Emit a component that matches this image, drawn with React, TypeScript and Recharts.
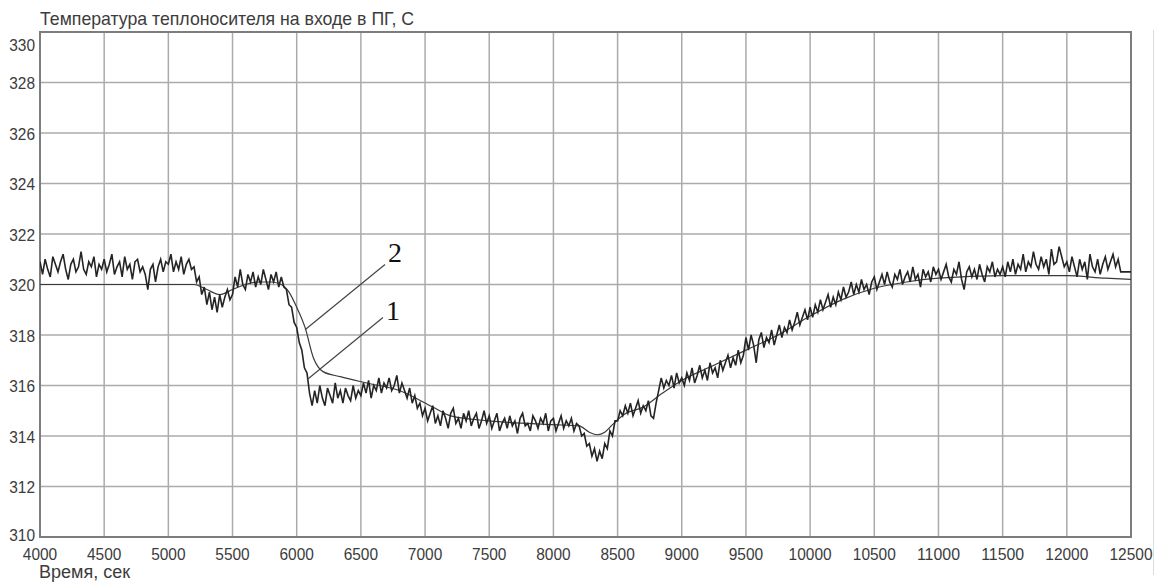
import React from "react";
import {
  LineChart,
  Line,
  XAxis,
  YAxis,
  CartesianGrid,
  ReferenceArea,
  ReferenceLine,
  ReferenceDot,
} from "recharts";

// measured temperature, sampled every 20 s from 4000 s
const startTime = 4000;
const sampleStep = 20;
const measuredTemp = [
  // 4000-4480
  320.9, 320.4, 321.0, 320.6, 320.3, 321.1, 320.8, 320.5, 320.9, 321.2,
  320.6, 320.2, 320.8, 321.0, 320.5, 320.7, 321.3, 320.6, 320.4, 320.9,
  320.7, 321.1, 320.3, 320.8, 320.6,
  // 4500-4980
  321.0, 320.5, 320.8, 321.2, 320.4, 320.7, 320.9, 320.3, 321.1, 320.6,
  320.8, 320.2, 320.9, 321.0, 320.5, 320.7, 320.4, 319.8, 320.6, 320.8,
  320.1, 320.7, 321.0, 320.5, 320.9,
  // 5000-5480
  320.8, 321.2, 320.5, 320.9, 320.6, 321.1, 320.4, 320.8, 321.0, 320.6,
  320.7, 320.1, 320.3, 319.6, 319.9, 319.2, 319.7, 319.0, 319.5, 318.9,
  319.6, 319.1, 319.5, 319.8, 319.4,
  // 5500-5980
  319.6, 320.3, 319.9, 320.6, 320.0, 319.8, 320.4, 320.1, 320.5, 319.9,
  320.3, 320.0, 320.6, 320.2, 319.8, 320.4, 320.1, 320.5, 319.9, 320.3,
  319.9, 319.8, 319.2, 319.1, 318.5,
  // 6000-6480
  318.3, 317.7, 317.4, 316.7, 316.5, 315.7, 315.2, 315.8, 315.3, 316.0,
  315.5, 315.2, 315.9, 315.6, 315.3, 316.1, 315.5, 315.8, 315.3, 315.9,
  315.6, 315.4, 316.0, 315.5, 315.8,
  // 6500-6980
  315.6, 316.1, 315.7, 316.2, 315.5, 316.0, 315.8, 316.3, 315.7, 316.1,
  315.9, 316.3, 315.8, 316.0, 316.4, 315.7, 316.1, 315.8, 315.5, 315.9,
  315.3, 315.6, 315.1, 315.3, 314.8,
  // 7000-7480
  315.1, 314.6, 314.9, 315.2, 314.5, 314.8, 314.4, 315.0, 314.7, 314.3,
  314.9, 315.1, 314.5, 314.7, 314.3, 314.9, 314.6, 315.0, 314.4, 314.7,
  314.9, 314.3, 314.6, 315.0, 314.5,
  // 7500-7980
  314.8, 314.3, 314.6, 314.9, 314.2, 314.5, 314.7, 314.3, 314.8, 314.4,
  314.6, 314.1, 314.7, 314.9, 314.4, 314.5, 314.2, 314.8, 314.6, 314.3,
  314.7, 314.5, 314.9, 314.2, 314.6,
  // 8000-8480
  314.7, 314.2, 314.5, 314.8, 314.3, 314.6, 314.4, 314.7, 314.2, 314.5,
  314.4, 314.0, 314.1, 313.6, 313.7, 313.2, 313.5, 313.0, 313.4, 313.1,
  313.7, 313.5, 314.2, 314.0, 314.6,
  // 8500-8980
  314.6, 315.0, 314.8, 315.2, 314.9, 315.3, 314.8, 315.1, 315.4, 314.9,
  315.2, 315.0, 315.4, 314.8, 314.7, 315.3, 315.8, 316.3, 315.9, 316.2,
  316.0, 316.4, 315.9, 316.5, 316.1,
  // 9000-9480
  316.3, 316.0, 316.5, 316.2, 316.7, 316.1, 316.4, 316.8, 316.3, 316.6,
  316.2, 316.9, 316.5, 316.7, 316.3, 317.0, 316.6, 316.9, 317.2, 316.7,
  317.1, 316.8, 317.4, 316.9, 317.2,
  // 9500-9980
  317.9, 317.4, 318.0, 317.6, 316.9, 317.8, 318.1, 317.5, 317.9, 317.7,
  318.2, 317.6, 318.0, 318.4, 317.9, 318.3, 318.1, 318.6, 318.2, 318.5,
  318.9, 318.4, 318.7, 319.0, 318.6,
  // 10000-10480
  319.1, 318.7, 319.2, 318.9, 319.4, 319.0, 319.3, 319.6, 319.1, 319.5,
  319.2, 319.7, 319.4, 319.9, 319.5, 319.7, 320.1, 319.6, 320.0, 319.7,
  320.2, 319.8, 320.0, 319.6, 320.1,
  // 10500-10980
  320.3, 319.8, 320.1, 320.4, 320.0, 320.5, 320.1, 319.9, 320.4, 320.2,
  320.6, 320.0, 320.3, 320.5, 320.1, 320.7, 320.2, 320.4, 319.9, 320.6,
  320.3, 320.5, 320.1, 320.7, 320.4,
  // 11000-11480
  320.6, 320.2, 320.5, 320.8, 320.3, 320.1, 320.6, 320.4, 320.9, 320.2,
  319.8, 320.5, 320.7, 320.3, 320.6, 320.2, 320.8, 320.4, 320.1, 320.7,
  320.5, 320.9, 320.3, 320.6, 320.4,
  // 11500-11980
  320.7, 320.3, 320.9, 320.5, 321.0, 320.4, 320.8, 320.6, 321.2, 320.5,
  320.9, 320.7, 321.3, 320.8, 320.6, 321.1, 320.7, 321.0, 320.4, 321.4,
  320.8, 320.9, 321.5, 321.1, 320.7,
  // 12000-12400
  320.9, 320.5, 321.1, 320.7, 320.3, 321.0, 320.6, 320.9, 320.2, 321.2,
  320.7, 320.5, 321.0, 320.4, 320.8, 321.1, 320.6, 320.9, 321.2, 320.7,
  321.0,
];
const tailTime = [12420, 12500];
const tailTemp = [320.5, 320.5];

// calculated (smooth) curve
const modelTime = [
  4000, 5200, 5300, 5400, 5500, 5600, 5700, 5800, 5880, 5940, 6000, 6065,
  6130, 6205, 6340, 6545, 6800, 7060, 7200, 7500, 8000, 8200, 8280, 8340,
  8400, 8460, 8550, 8700, 8850, 9000, 9250, 9500, 9750, 10000, 10250, 10500,
  10750, 11000, 11500, 12000, 12300, 12500,
];
const modelTemp = [
  320.0, 320.0, 319.8, 319.6, 319.8, 320.0, 320.1, 320.1, 320.0, 319.7, 319.1,
  318.3, 317.1, 316.55, 316.35, 316.1, 315.8, 315.15, 314.8, 314.6, 314.45,
  314.4, 314.15, 314.05, 314.15, 314.45, 314.85, 315.15, 315.7, 316.2, 316.8,
  317.4, 318.0, 318.75, 319.4, 319.85, 320.1, 320.25, 320.35, 320.35, 320.25,
  320.2,
];

const xTicks = [
  4000, 4500, 5000, 5500, 6000, 6500, 7000, 7500, 8000, 8500, 9000, 9500,
  10000, 10500, 11000, 11500, 12000, 12500,
];
const yTicks = [310, 312, 314, 316, 318, 320, 322, 324, 326, 328, 330];

// curve labels: text anchor and leader line (from, to) in data units
const curveLabels = [
  { name: "2", t: 6766, v: 320.91, from: [6688, 320.79], to: [6065, 318.21] },
  { name: "1", t: 6750, v: 318.61, from: [6672, 318.69], to: [6080, 316.23] },
];

const measuredData = measuredTemp
  .map((v, i) => ({ t: startTime + i * sampleStep, v }))
  .concat(tailTime.map((t, i) => ({ t, v: tailTemp[i] })));
const modelData = modelTime.map((t, i) => ({ t, v: modelTemp[i] }));

const font = "'Liberation Sans', Arial, sans-serif";
const textColor = "#3c3c3c";
const digitWidth = 8.6; // the source uses a narrow face

const YTick = ({ x, y, payload }: any) => {
  const s = String(payload.value);
  // top and bottom labels are pushed inside so they clear the frame / x labels
  const dy = payload.value === 330 ? 19 : payload.value === 310 ? 3.5 : 6.5;
  return (
    <text
      x={x}
      y={y + dy}
      textAnchor="end"
      fontSize={17}
      fontFamily={font}
      fill={textColor}
      textLength={s.length * digitWidth}
      lengthAdjust="spacingAndGlyphs"
    >
      {s}
    </text>
  );
};

const XTick = ({ x, y, payload }: any) => {
  const s = String(payload.value);
  return (
    <text
      x={x}
      y={y + 19}
      textAnchor="middle"
      fontSize={17}
      fontFamily={font}
      fill={textColor}
      textLength={s.length * digitWidth}
      lengthAdjust="spacingAndGlyphs"
    >
      {s}
    </text>
  );
};

export default function App() {
  return (
    <div
      style={{
        position: "absolute",
        left: 0,
        top: 0,
        width: 1163,
        height: 582,
        background: "#fff",
      }}
    >
      <div
        style={{
          position: "absolute",
          left: 40,
          top: 9,
          fontFamily: font,
          fontSize: 17.7,
          lineHeight: "20px",
          color: textColor,
          whiteSpace: "nowrap",
        }}
      >
        Температура теплоносителя на входе в ПГ, С
      </div>
      <div
        style={{
          position: "absolute",
          left: 39,
          top: 564,
          fontFamily: font,
          fontSize: 18,
          lineHeight: "17px",
          color: textColor,
          whiteSpace: "nowrap",
        }}
      >
        Время, сек
      </div>
      <div
        style={{
          position: "absolute",
          left: 1153,
          top: 30,
          width: 1,
          height: 545,
          background: "#dcdcdc",
        }}
      />
      <LineChart
        width={1163}
        height={582}
        margin={{ top: 32, right: 32, left: 0, bottom: 0 }}
      >
        <CartesianGrid stroke="#ababab" strokeWidth={1.5} />
        <XAxis
          type="number"
          dataKey="t"
          domain={[4000, 12500]}
          ticks={xTicks}
          height={45}
          tickSize={0}
          tickMargin={4}
          axisLine={false}
          tick={<XTick />}
          interval={0}
          allowDataOverflow
        />
        <YAxis
          type="number"
          domain={[310, 330]}
          ticks={yTicks}
          width={40}
          tickSize={0}
          tickMargin={5}
          axisLine={false}
          tick={<YTick />}
          interval={0}
          allowDataOverflow
        />
        <Line
          data={modelData}
          dataKey="v"
          type="monotone"
          stroke="#3a3a3a"
          strokeWidth={1.2}
          dot={false}
          isAnimationActive={false}
        />
        <Line
          data={measuredData}
          dataKey="v"
          type="linear"
          stroke="#242424"
          strokeWidth={1.6}
          dot={false}
          isAnimationActive={false}
        />
        {curveLabels.map((c) => (
          <ReferenceLine
            key={"l" + c.name}
            segment={[
              { x: c.from[0], y: c.from[1] },
              { x: c.to[0], y: c.to[1] },
            ]}
            stroke="#444"
            strokeWidth={1.2}
          />
        ))}
        {curveLabels.map((c) => (
          <ReferenceDot
            key={"d" + c.name}
            x={c.t}
            y={c.v}
            r={0}
            shape={(p: any) => (
              <text
                x={p.cx}
                y={p.cy}
                textAnchor="middle"
                fontSize={28}
                fontFamily="'Liberation Serif', 'Times New Roman', serif"
                fill="#111"
              >
                {c.name}
              </text>
            )}
          />
        ))}
        <ReferenceArea
          x1={4000}
          x2={12500}
          y1={310}
          y2={330}
          fill="none"
          fillOpacity={0}
          stroke="#7d7d7d"
          strokeWidth={2}
        />
      </LineChart>
    </div>
  );
}
